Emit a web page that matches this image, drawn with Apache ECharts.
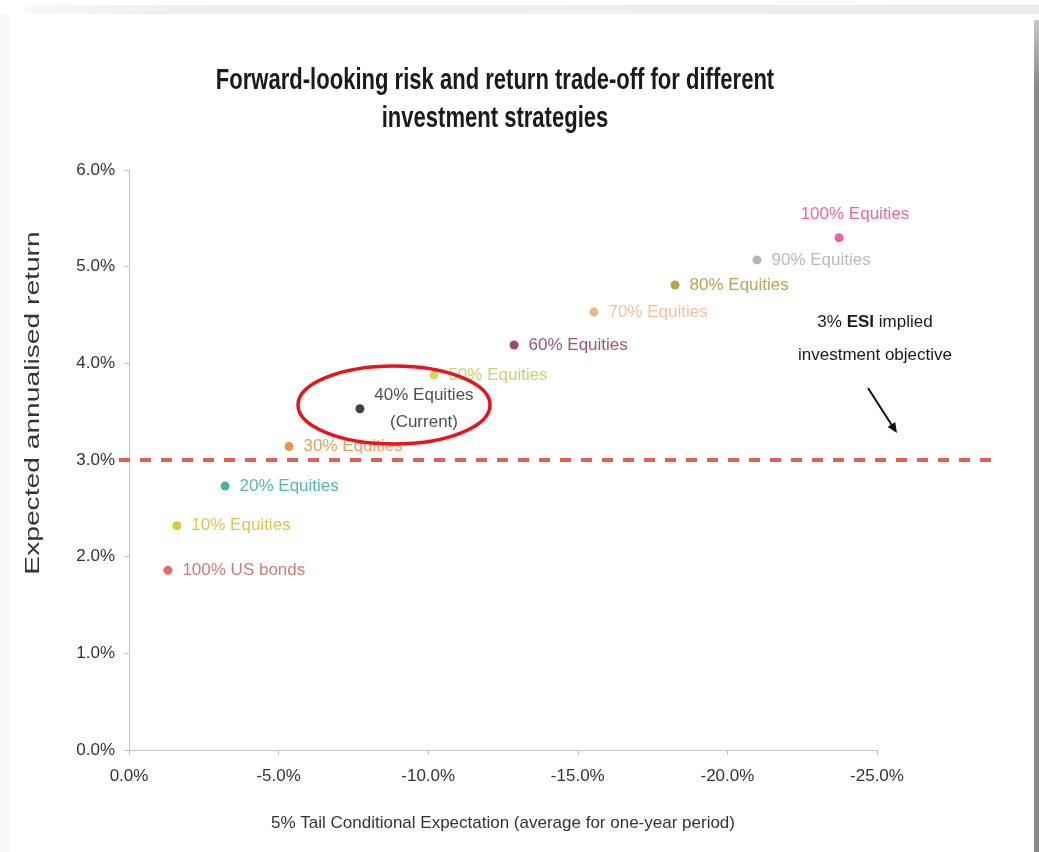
<!DOCTYPE html>
<html>
<head>
<meta charset="utf-8">
<title>Risk and return trade-off</title>
<script src="https://cdn.jsdelivr.net/npm/echarts@6/dist/echarts.min.js"></script>
<style>
  html, body { margin: 0; padding: 0; background: #fff; }
  #chart { width: 1039px; height: 852px; }
</style>
</head>
<body>
<div id="chart"></div>
<script>
// strategies, tail expectation (%) and expected annual return (%)
const strategies = ['100% US bonds', '10% Equities', '20% Equities', '30% Equities', '40% Equities',
  '50% Equities', '60% Equities', '70% Equities', '80% Equities', '90% Equities', '100% Equities']
const pointLabels = ['100% US bonds', '10% Equities', '20% Equities', '30% Equities', '40% Equities\n(Current)',
  '50% Equities', '60% Equities', '70% Equities', '80% Equities', '90% Equities', '100% Equities']
const tailExpectation = [-1.30, -1.60, -3.21, -5.35, -7.72, -10.19, -12.87, -15.54, -18.25, -20.99, -23.73]
const expectedReturn = [1.86, 2.32, 2.73, 3.14, 3.53, 3.88, 4.19, 4.53, 4.81, 5.07, 5.30]
const pointColors = ['#e2473f', '#d9b70c', '#1c9e90', '#de7a28', '#111111', '#c9c93a',
  '#8c1a4c', '#f6a15e', '#b4861c', '#a3a3a3', '#f0348c']
const labelColors = ['#c45a5a', '#d8b521', '#2aa59c', '#d98a3c', '#222222', '#c4c545',
  '#8a2452', '#f2b286', '#a68c26', '#a9a9a9', '#e2418f']
const objectiveReturn = 3.0

const FONT = '"Liberation Sans", Arial, sans-serif'

const chart = echarts.init(document.getElementById('chart'))

const pointData = strategies.map((name, i) => {
  const item = {
    name: name,
    value: [tailExpectation[i], expectedReturn[i]],
    itemStyle: { color: pointColors[i] },
    label: { color: labelColors[i], formatter: pointLabels[i] }
  }
  if (i === 4) {
    item.label.position = 'inside'
    item.label.offset = [64, 0]
    item.label.align = 'center'
    item.label.lineHeight = 27
  }
  if (i === 10) {
    item.label.position = 'inside'
    item.label.offset = [16, -23]
  }
  return item
})

const option = {
  backgroundColor: '#ffffff',
  animation: false,
  grid: [
    { left: 129, right: 162, top: 170, bottom: 102 },
    { left: 119, right: 46, top: 170, bottom: 102 }
  ],
  xAxis: [
    {
      type: 'value',
      gridIndex: 0,
      min: -25,
      max: 0,
      interval: 5,
      inverse: true,
      name: '5% Tail Conditional Expectation (average for one-year period)',
      nameLocation: 'middle',
      nameGap: 65,
      nameTextStyle: { fontFamily: FONT, fontSize: 17, color: '#333' },
      axisLine: { lineStyle: { color: '#c4c4c4', width: 1 } },
      axisTick: { show: true, length: 5, lineStyle: { color: '#c4c4c4' } },
      splitLine: { show: false },
      axisLabel: {
        fontFamily: FONT,
        fontSize: 17,
        color: '#333',
        margin: 18,
        formatter: v => v.toFixed(1) + '%'
      }
    },
    { type: 'value', gridIndex: 1, min: 0, max: 1, show: false }
  ],
  yAxis: [
    {
      type: 'value',
      gridIndex: 0,
      min: 0,
      max: 6,
      interval: 1,
      axisLine: { show: true, lineStyle: { color: '#c4c4c4', width: 1 } },
      axisTick: { show: true, length: 5, lineStyle: { color: '#c4c4c4' } },
      splitLine: { show: false },
      axisLabel: {
        fontFamily: FONT,
        fontSize: 17,
        color: '#333',
        margin: 14,
        formatter: v => v.toFixed(1) + '%'
      }
    },
    { type: 'value', gridIndex: 1, min: 0, max: 6, show: false }
  ],
  series: [
    {
      // 3% ESI objective, dashed across the plot
      type: 'line',
      xAxisIndex: 1,
      yAxisIndex: 1,
      z: 1,
      silent: true,
      symbol: 'none',
      data: [[0, objectiveReturn], [1, objectiveReturn]],
      lineStyle: { color: '#e14c3e', width: 4, type: [11, 10], opacity: 0.9 }
    },
    {
      type: 'scatter',
      xAxisIndex: 0,
      yAxisIndex: 0,
      z: 3,
      symbolSize: 9,
      data: pointData,
      label: {
        show: true,
        position: 'right',
        distance: 10,
        fontFamily: FONT,
        fontSize: 17
      }
    }
  ],
  graphic: [
    // screenshot frame
    { type: 'rect', silent: true, shape: { x: 25, y: 5, width: 1014, height: 9 },
      style: { fill: new echarts.graphic.LinearGradient(0, 0, 1, 0, [
        { offset: 0, color: '#f8f8f8' }, { offset: 0.15, color: '#efefef' }, { offset: 1, color: '#ececec' }]) } },
    { type: 'rect', silent: true, shape: { x: 0, y: 14, width: 9, height: 838 }, style: { fill: '#f9f9f9' } },
    { type: 'rect', silent: true, shape: { x: 1034, y: 20, width: 5, height: 832 },
      style: { fill: new echarts.graphic.LinearGradient(0, 0, 0, 1, [
        { offset: 0, color: '#c8c8c8' }, { offset: 0.08, color: '#8a8a8a' }, { offset: 1, color: '#8a8a8a' }]) } },
    // chart title (condensed like the source)
    {
      type: 'text',
      x: 495,
      y: 100,
      scaleX: 0.76,
      silent: true,
      style: {
        text: 'Forward-looking risk and return trade-off for different\ninvestment strategies',
        font: 'bold 29px ' + FONT,
        fill: '#1a1a1a',
        align: 'center',
        verticalAlign: 'middle',
        lineHeight: 38
      }
    },
    // y axis title
    {
      type: 'text',
      x: 33,
      y: 403,
      rotation: Math.PI / 2,
      scaleX: 1.41,
      silent: true,
      style: {
        text: 'Expected annualised return',
        font: '20px ' + FONT,
        fill: '#333',
        align: 'center',
        verticalAlign: 'middle'
      }
    },
    // current allocation highlight
    {
      type: 'ellipse',
      silent: true,
      z: 10,
      shape: { cx: 394, cy: 405, rx: 96, ry: 39 },
      style: { fill: 'none', stroke: '#e8141b', lineWidth: 3.5 }
    },
    // annotation for the dashed line
    {
      type: 'text',
      x: 875,
      y: 339,
      silent: true,
      style: {
        text: '{n|3% }{b|ESI}{n| implied}\n{n|investment objective}',
        font: '17px ' + FONT,
        fill: '#1a1a1a',
        align: 'center',
        verticalAlign: 'middle',
        rich: {
          n: { fontFamily: FONT, fontSize: 17, fill: '#1a1a1a', lineHeight: 33 },
          b: { fontFamily: FONT, fontSize: 17, fontWeight: 'bold', fill: '#1a1a1a', lineHeight: 33 }
        }
      }
    },
    {
      type: 'line',
      silent: true,
      shape: { x1: 868, y1: 388, x2: 893, y2: 427 },
      style: { stroke: '#111', lineWidth: 2 }
    },
    {
      type: 'polygon',
      silent: true,
      shape: { points: [[897, 433], [887.6, 426.9], [895.2, 422.1]] },
      style: { fill: '#111' }
    }
  ]
}

chart.setOption(option)
</script>
</body>
</html>
